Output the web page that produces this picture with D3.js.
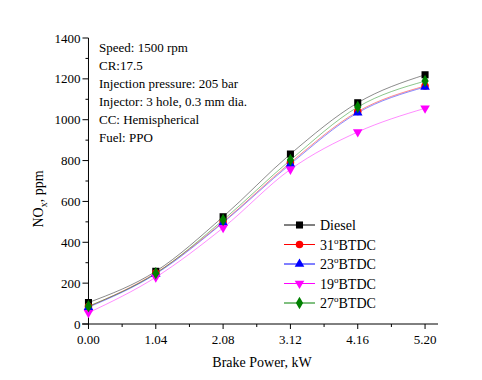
<!DOCTYPE html>
<html><head><meta charset="utf-8">
<script src="https://cdn.jsdelivr.net/npm/d3@7"></script>
<style>body{margin:0;background:#fff}svg{display:block}text,tspan{font-family:"Liberation Serif","Times New Roman",serif;fill:#000}</style>
</head><body><svg id="c" width="482" height="380" font-family="Liberation Serif"></svg>
<script>
const power = [0.00, 1.04, 2.08, 3.12, 4.16, 5.20];
const xTickLabels = ["0.00","1.04","2.08","3.12","4.16","5.20"];
const yTicks = [0,200,400,600,800,1000,1200,1400];
const diesel = [105, 258, 525, 832, 1083, 1220];
const btdc31 = [85, 250, 500, 790, 1040, 1165];
const btdc23 = [82, 245, 496, 783, 1034, 1160];
const btdc19 = [55, 229, 471, 757, 940, 1056];
const btdc27 = [87, 248, 509, 803, 1062, 1189];
const seriesNames = ["Diesel","31","23","19","27"];
const notes = ["Speed: 1500 rpm","CR:17.5","Injection pressure: 205 bar","Injector: 3 hole, 0.3 mm dia.","CC: Hemispherical","Fuel: PPO"];

const series = [
  {name:"Diesel", vals:diesel, color:"#000000", sym:d3.symbolSquare, size:50, rot:0},
  {name:"31", vals:btdc31, color:"#ff0000", sym:d3.symbolCircle, size:45, rot:0},
  {name:"23", vals:btdc23, color:"#0000ff", sym:d3.symbolTriangle, size:40, rot:0},
  {name:"19", vals:btdc19, color:"#ff00ff", sym:d3.symbolTriangle, size:40, rot:180},
  {name:"27", vals:btdc27, color:"#008000", sym:d3.symbolDiamond, size:45, rot:0}
];

const svg = d3.select("#c");
const x = d3.scaleLinear().domain([-0.1,5.4]).range([82,438]);
const y = d3.scaleLinear().domain([0,1400]).range([324,38]);

// axes
const xAxis = svg.append("g").attr("transform","translate(0,324)");
xAxis.append("line").attr("x1",82).attr("x2",438).attr("stroke","#000");
const xMinor = d3.range(0,5.21,0.52);
xAxis.selectAll(".xt").data(xMinor).join("line")
  .attr("x1",d=>x(d)).attr("x2",d=>x(d)).attr("y1",0)
  .attr("y2",(d,i)=>i%2===0?5:3).attr("stroke","#000");
xAxis.selectAll(".xl").data(power).join("text")
  .attr("x",d=>x(d)).attr("y",20).attr("text-anchor","middle").attr("font-size",13)
  .text((d,i)=>xTickLabels[i]);

const yAxis = svg.append("g");
yAxis.append("line").attr("x1",x(0)).attr("x2",x(0)).attr("y1",y(0)).attr("y2",y(1400)).attr("stroke","#000");
yAxis.selectAll(".yt").data(d3.range(0,1401,100)).join("line")
  .attr("x1",d=>x(0)-(d%200===0?6:3)).attr("x2",x(0)).attr("y1",d=>y(d)).attr("y2",d=>y(d)).attr("stroke","#000");
yAxis.selectAll(".yl").data(yTicks).join("text")
  .attr("x",x(0)-8).attr("y",d=>y(d)+4.5).attr("text-anchor","end").attr("font-size",13).text(d=>d);

// titles
svg.append("text").attr("x",262).attr("y",367).attr("text-anchor","middle").attr("font-size",14).text("Brake Power, kW");
const yt = svg.append("text").attr("transform","translate(43,199) rotate(-90)").attr("text-anchor","middle").attr("font-size",14);
yt.append("tspan").text("NO");
yt.append("tspan").attr("font-size",10).attr("dy",4).text("x");
yt.append("tspan").attr("dy",-4).text(", ppm");

// notes
svg.append("g").selectAll("text").data(notes).join("text")
  .attr("x",99).attr("y",(d,i)=>51.5+i*18).attr("font-size",13).text(d=>d);

// curves
const line = d3.line().x((d,i)=>x(power[i])).y(d=>y(d)).curve(d3.curveMonotoneX);
series.forEach(s=>{
  svg.append("path").attr("d",line(s.vals)).attr("fill","none")
    .attr("stroke",s.color).attr("stroke-width",1).attr("stroke-opacity",0.45);
});
series.forEach(s=>{
  svg.append("g").selectAll("path").data(s.vals).join("path")
    .attr("d",d3.symbol().type(s.sym).size(s.size))
    .attr("transform",(d,i)=>`translate(${x(power[i])},${y(d)}) rotate(${s.rot})`)
    .attr("fill",s.color);
});

// legend
const lg = svg.append("g");
series.forEach((s,i)=>{
  const cy = 225 + i*19.5;
  lg.append("line").attr("x1",284).attr("x2",315).attr("y1",cy).attr("y2",cy).attr("stroke",s.color);
  lg.append("path").attr("d",d3.symbol().type(s.sym).size(s.size))
    .attr("transform",`translate(299.5,${cy}) rotate(${s.rot})`).attr("fill",s.color);
  const t = lg.append("text").attr("x",320).attr("y",cy+5).attr("font-size",14);
  if (i===0) t.text(seriesNames[i]);
  else {
    t.append("tspan").text(seriesNames[i]);
    t.append("tspan").attr("font-size",9).attr("dy",-6).text("o");
    t.append("tspan").attr("dy",6).text("BTDC");
  }
});
</script></body></html>
